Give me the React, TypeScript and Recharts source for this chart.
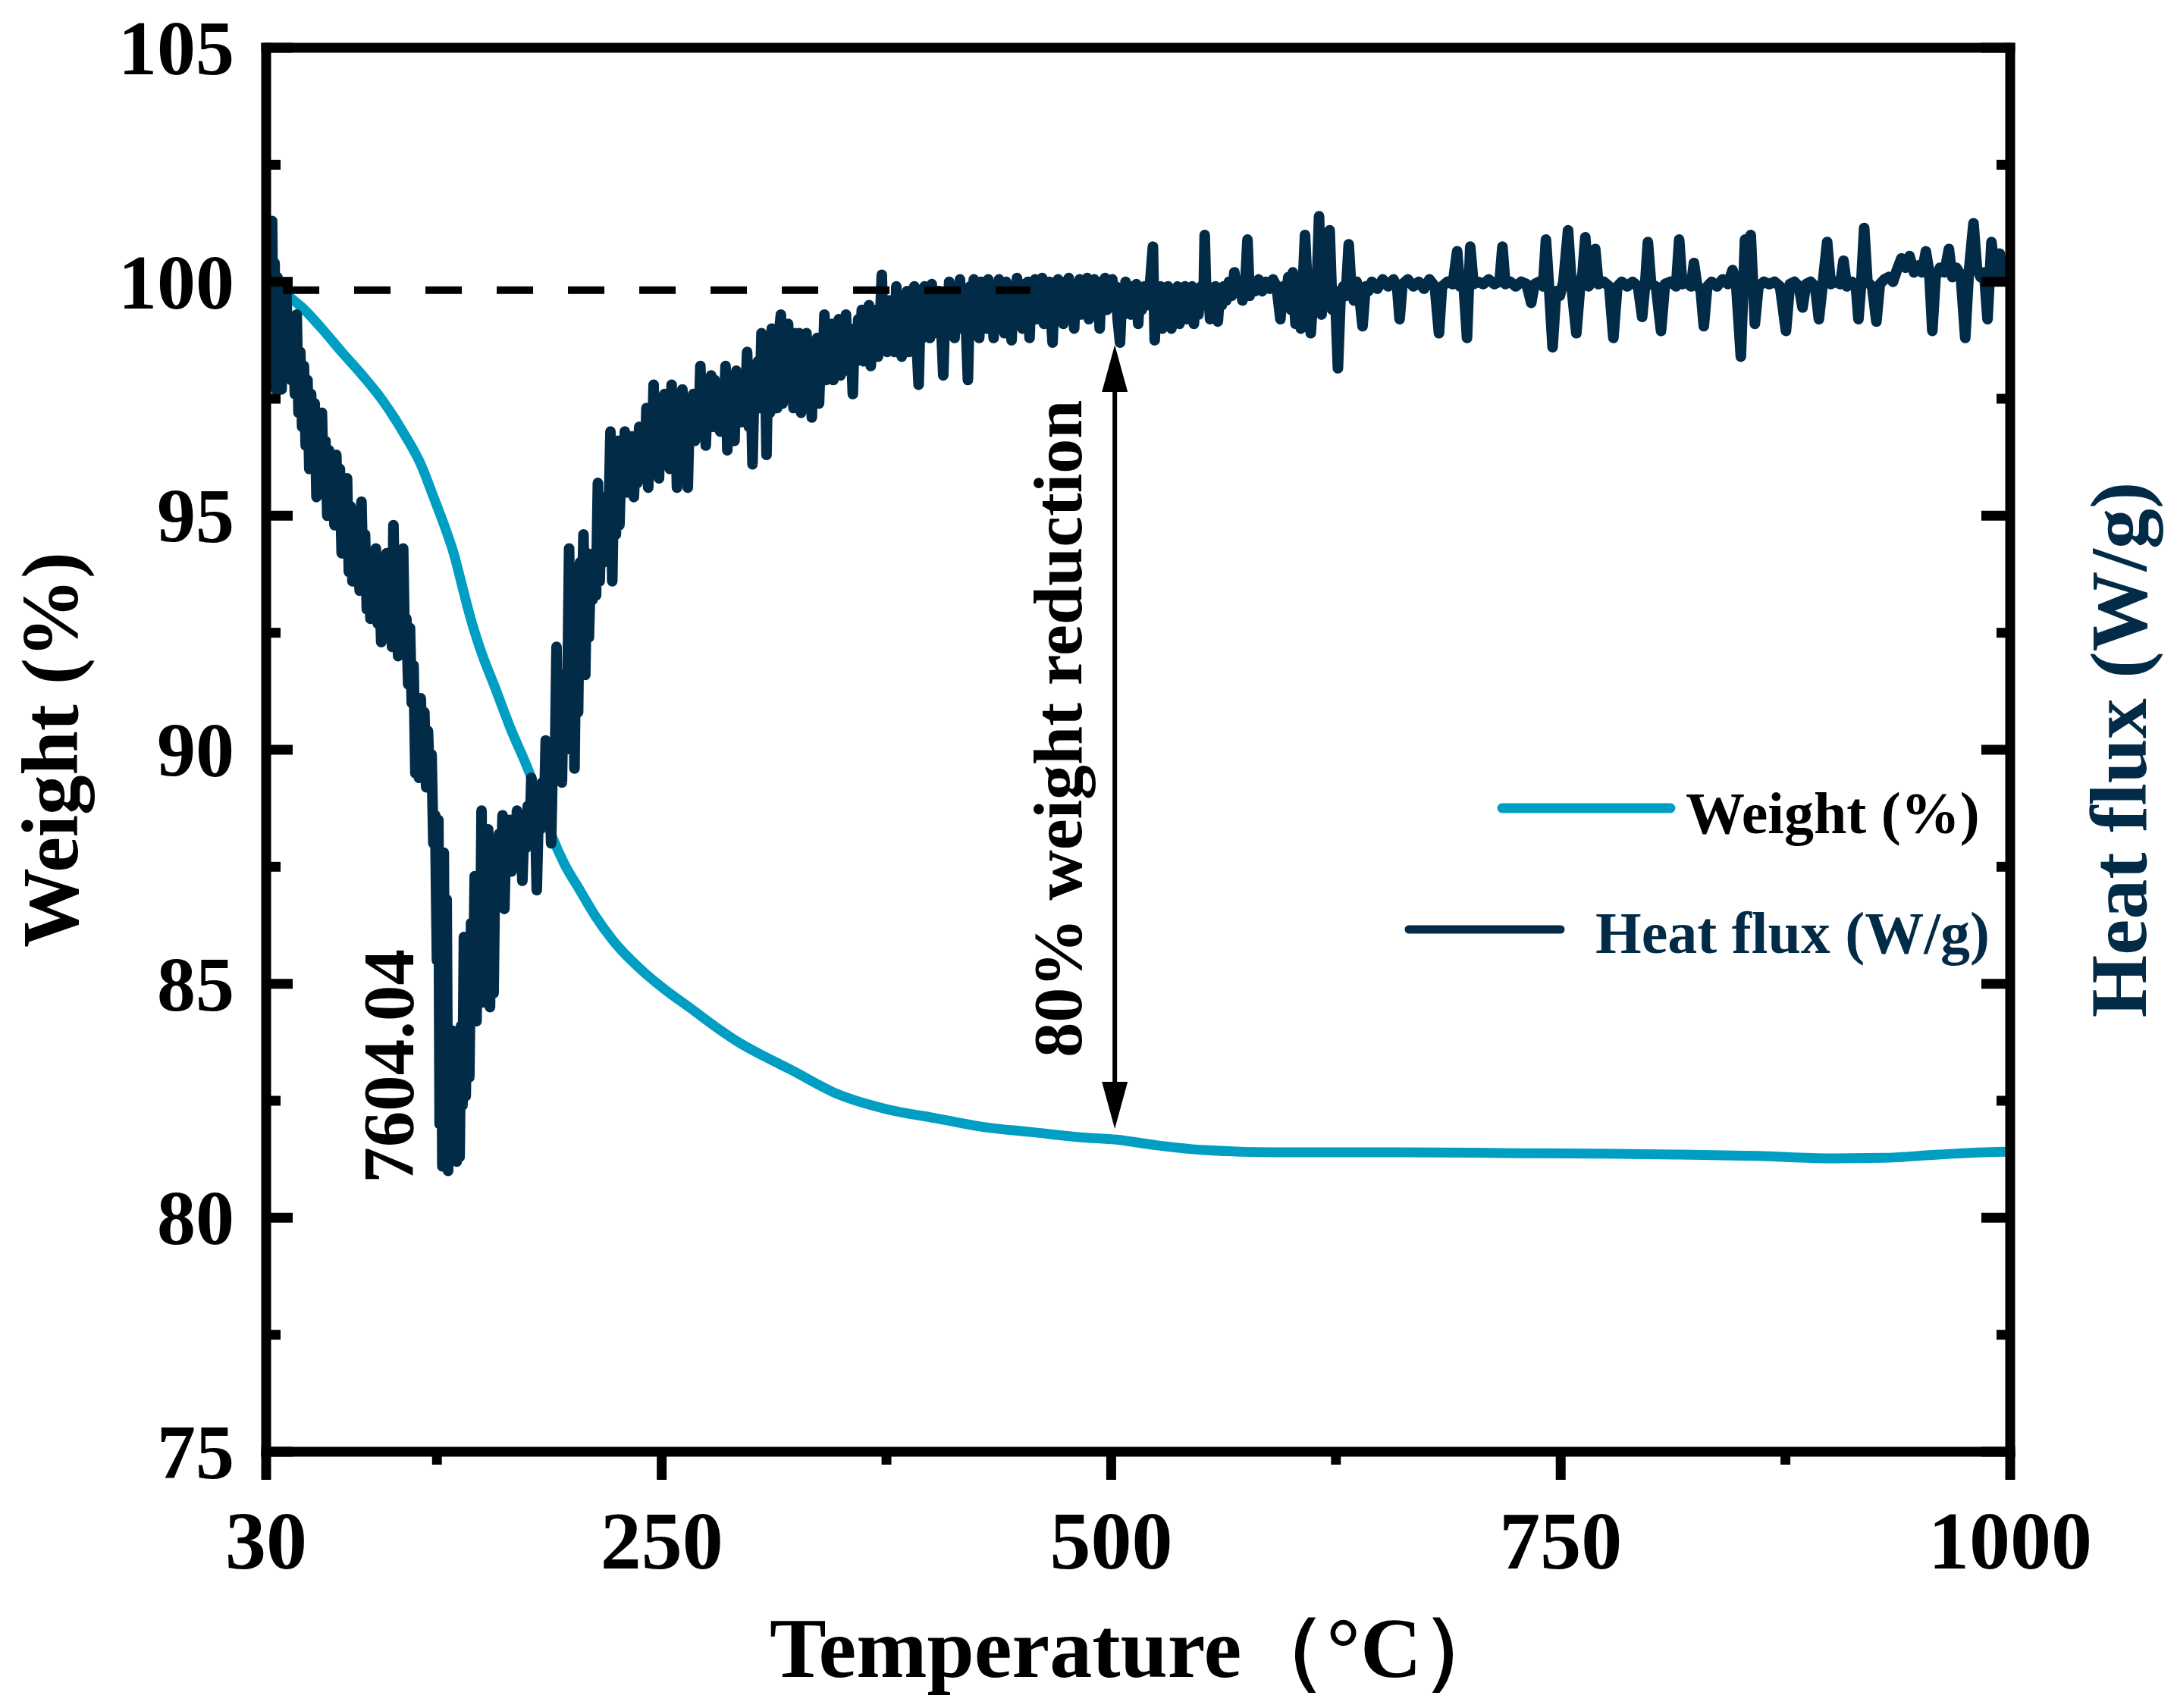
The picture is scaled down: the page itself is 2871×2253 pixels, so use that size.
import React from 'react';
import { LineChart, Line, XAxis, YAxis, ReferenceLine, ReferenceDot, Legend } from 'recharts';

const CHART_W = 2871;
const CHART_H = 2253;
const FONT = "'Liberation Serif', 'Times New Roman', Times, serif";
const WEIGHT_COLOR = '#009EC2';
const HEAT_COLOR = '#022B47';

// ---------- axes ----------
const xTicks = [30, 125, 250, 375, 500, 625, 750, 875, 1000];
const xTickLabels: Record<number, string> = { 30: '30', 250: '250', 500: '500', 750: '750', 1000: '1000' };
const yTicks = [75, 77.5, 80, 82.5, 85, 87.5, 90, 92.5, 95, 97.5, 100, 102.5, 105];
const yTickLabels: Record<number, string> = { 75: '75', 80: '80', 85: '85', 90: '90', 95: '95', 100: '100', 105: '105' };

// ---------- Weight (%) ----------
const weightT = [30, 40, 50, 63, 72, 82, 95, 108, 116, 123, 129, 134.6, 139, 144, 150, 157, 166, 176, 183, 189, 196, 204, 213, 223, 240, 251, 267, 280, 294, 308, 321, 348, 375, 402, 429, 456, 483, 503, 523, 550, 590, 662, 727, 770, 814, 860, 900, 929, 960, 998, 1000];
const weightV = [99.98, 99.76, 99.45, 98.91, 98.5, 98.07, 97.45, 96.67, 96.1, 95.41, 94.8, 94.16, 93.5, 92.77, 92.05, 91.36, 90.45, 89.55, 88.8, 88.15, 87.55, 87.03, 86.45, 85.92, 85.25, 84.9, 84.45, 84.08, 83.72, 83.43, 83.18, 82.64, 82.32, 82.13, 81.94, 81.83, 81.72, 81.67, 81.56, 81.45, 81.4, 81.4, 81.38, 81.37, 81.35, 81.32, 81.27, 81.28, 81.35, 81.41, 81.41];

// ---------- Heat flux (read in right-axis units, same span as left) ----------
const heatFluxPoints: [number, number][] = [
  [30, 98.2], [30.6, 101.3], [31.3, 97.8], [32.0, 100.5], [32.6, 99.0], [33.3, 101.3], [34.0, 98.6], [34.7, 100.4], [35.4, 97.7], [36.2, 100.1],
  [37.0, 98.3], [37.8, 99.7], [38.6, 97.7], [39.5, 99.5], [40.4, 98.4], [41.3, 99.8], [42.2, 98.0], [43.1, 99.0], [44.0, 97.9], [45.0, 98.8],
  [46.0, 97.6], [47.0, 99.3], [48.0, 97.2], [49.0, 98.5], [50.0, 96.9], [51.0, 98.2], [52.0, 96.5], [53.0, 97.9], [54.0, 96.0], [55.0, 97.6],
  [56.0, 96.4], [57.0, 97.4], [58.0, 95.4], [59.0, 96.9], [60.0, 95.9], [61.0, 97.2], [62.0, 95.6], [63.0, 96.6], [64.0, 95.0], [65.0, 96.4],
  [66.0, 95.3], [67.0, 96.2], [68.0, 94.8], [69.0, 96.3], [70.0, 95.0], [71.0, 96.0], [72.0, 94.2], [73.0, 95.6], [74.0, 94.5], [75.0, 95.8],
  [76.0, 93.8], [77.0, 95.2], [78.0, 93.6], [79.0, 94.8], [80.0, 93.9], [81.0, 94.6], [82.0, 93.4], [83.0, 95.3], [84.0, 93.6], [85.0, 94.6],
  [86.0, 93.0], [87.0, 94.2], [88.0, 92.8], [89.0, 94.0], [90.0, 93.1], [91.0, 94.3], [92.0, 92.7], [93.0, 93.6], [94.0, 92.3], [95.0, 93.8],
  [96.0, 93.0], [97.0, 94.2], [98.0, 92.5], [99.0, 93.4], [100.0, 92.2], [100.8, 94.8], [101.6, 93.0], [102.5, 94.0], [103.4, 92.0], [104.3, 93.2],
  [105.2, 92.1], [106.2, 94.3], [107.1, 92.2], [108.0, 92.8], [109.0, 91.4], [110.0, 92.6], [111.0, 91.0], [112.0, 91.8], [113.0, 89.5], [114.0, 90.6],
  [115.0, 89.4], [116.0, 91.1], [117.0, 89.8], [118.0, 90.8], [119.0, 89.2], [120.0, 90.4], [121.0, 89.3], [122.0, 89.9], [123.0, 88.0], [124.0, 88.6],
  [125.0, 85.5], [125.8, 88.5], [126.5, 82.0], [127.2, 87.6], [128.0, 81.1], [128.8, 87.8], [129.6, 81.2], [130.4, 86.8], [131.2, 81.0], [132.0, 83.8],
  [132.8, 81.3], [133.6, 84.0], [134.4, 81.5], [135.2, 83.2], [136.0, 81.2], [136.8, 82.4], [137.6, 81.3], [138.4, 84.1], [139.2, 82.4], [140.0, 86.0],
  [141.0, 82.6], [142.0, 85.4], [143.0, 83.0], [144.0, 86.3], [145.0, 84.3], [146.0, 87.3], [147.0, 84.2], [148.0, 87.0], [149.0, 85.0], [149.8, 88.7],
  [150.6, 84.6], [151.5, 87.6], [152.5, 85.8], [153.5, 88.3], [154.5, 84.5], [155.5, 87.9], [156.5, 84.8], [157.5, 88.0], [158.5, 86.8], [159.5, 88.2],
  [160.5, 87.0], [161.5, 88.6], [162.5, 86.6], [163.5, 88.3], [164.5, 87.4], [165.5, 88.5], [166.5, 87.4], [167.5, 88.4], [168.5, 87.6], [169.5, 88.7],
  [170.5, 87.5], [171.5, 88.5], [172.5, 87.2], [173.5, 88.3], [174.5, 87.9], [175.5, 88.8], [176.5, 88.0], [177.5, 89.4], [178.5, 88.2], [179.5, 88.9],
  [180.5, 87.0], [181.5, 88.6], [182.5, 88.3], [183.5, 89.3], [184.5, 88.5], [185.5, 90.2], [186.5, 88.4], [187.5, 89.8], [188.5, 88.0], [189.5, 90.0],
  [190.5, 89.4], [191.5, 92.2], [192.5, 89.5], [193.5, 91.4], [194.5, 89.3], [195.5, 91.6], [196.5, 90.5], [197.5, 91.0], [198.5, 94.3], [199.5, 90.0],
  [200.5, 93.6], [201.5, 89.6], [202.5, 93.0], [203.5, 90.8], [204.5, 94.0], [205.5, 92.6], [206.5, 94.6], [207.5, 91.6], [208.5, 94.2], [209.5, 92.4],
  [210.5, 93.8], [211.5, 93.2], [212.5, 94.2], [213.5, 93.3], [214.5, 95.7], [215.5, 93.6], [216.5, 95.2], [217.5, 94.0], [218.5, 95.4], [219.5, 94.2],
  [220.5, 95.0], [221.5, 96.8], [222.5, 93.6], [223.5, 96.0], [224.5, 94.6], [225.5, 96.6], [226.5, 94.8], [227.5, 96.2], [228.5, 95.6], [229.5, 96.8],
  [230.5, 95.5], [231.5, 96.4], [232.5, 95.8], [233.5, 96.7], [234.5, 95.4], [235.5, 96.3], [236.5, 95.7], [237.5, 96.9], [238.5, 96.0], [239.5, 96.6],
  [240.5, 95.8], [241.5, 97.3], [242.5, 95.6], [243.5, 97.0], [244.5, 96.2], [245.5, 97.8], [246.5, 96.3], [247.5, 97.4], [248.5, 95.8], [249.5, 97.2],
  [250.5, 96.5], [251.5, 97.6], [252.5, 96.2], [253.5, 97.1], [254.5, 96.0], [255.5, 97.8], [256.5, 96.4], [257.5, 97.3], [258.5, 95.6], [259.5, 97.0],
  [260.5, 96.5], [261.5, 97.7], [262.5, 96.3], [263.5, 97.4], [264.5, 95.6], [265.5, 97.2], [266.5, 96.7], [267.5, 97.6], [268.5, 96.6], [269.5, 97.5],
  [270.5, 96.8], [271.5, 98.2], [272.5, 96.7], [273.5, 97.8], [274.5, 96.5], [275.5, 97.6], [276.5, 97.0], [277.5, 98.0], [278.5, 96.9], [279.5, 97.9],
  [280.5, 97.2], [281.5, 97.8], [282.5, 96.8], [283.5, 97.6], [284.5, 97.0], [285.5, 98.2], [286.5, 96.4], [287.5, 97.9], [288.5, 97.1], [289.5, 97.7],
  [290.5, 96.6], [291.5, 98.1], [292.5, 97.3], [293.5, 97.9], [294.5, 97.0], [295.5, 97.7], [296.5, 97.4], [297.5, 98.5], [298.5, 96.9], [299.5, 98.0],
  [300.5, 96.1], [301.5, 97.8], [302.5, 97.4], [303.5, 98.3], [304.5, 97.3], [305.5, 98.9], [306.5, 97.6], [307.5, 98.4], [308.3, 96.3], [309.2, 98.6],
  [310.2, 97.2], [311.2, 99.0], [312.2, 97.6], [313.2, 98.7], [314.2, 97.3], [315.2, 98.9], [316.3, 99.3], [317.3, 97.4], [318.3, 98.8], [319.3, 97.6],
  [320.3, 99.1], [321.3, 97.9], [322.3, 98.6], [323.3, 97.3], [324.3, 98.9], [325.3, 98.0], [326.5, 98.9], [327.5, 97.2], [328.5, 98.5], [329.5, 97.6],
  [330.5, 98.9], [331.5, 97.8], [332.5, 98.4], [333.5, 97.1], [334.5, 98.7], [335.5, 97.9], [336.5, 98.8], [337.5, 97.4], [338.5, 98.5], [339.5, 97.9],
  [340.5, 99.3], [341.5, 97.9], [342.5, 98.8], [343.5, 98.1], [344.5, 99.1], [345.5, 97.9], [346.5, 98.9], [347.5, 98.3], [348.5, 99.2], [349.5, 98.0],
  [350.5, 98.7], [351.5, 98.2], [352.5, 99.3], [353.5, 98.1], [354.5, 98.9], [355.5, 98.4], [356.3, 97.6], [357.3, 99.0], [358.3, 98.3], [359.3, 99.2],
  [360.3, 98.6], [361.3, 99.4], [362.3, 98.3], [363.3, 99.1], [364.3, 98.5], [365.3, 99.5], [366.3, 98.2], [367.3, 99.2], [368.3, 98.7], [369.3, 99.4],
  [370.3, 98.4], [371.3, 99.0], [372.4, 100.15], [373.4, 98.6], [374.4, 99.3], [375.4, 98.5], [376.5, 99.6], [377.5, 98.8], [378.5, 99.4], [379.5, 98.5],
  [380.5, 99.9], [381.5, 98.7], [382.5, 99.5], [383.5, 98.4], [384.5, 99.7], [385.5, 98.9], [386.5, 99.8], [387.5, 98.5], [388.5, 99.4], [389.5, 98.7],
  [390.5, 99.9], [391.5, 98.9], [392.9, 97.8], [394.0, 99.5], [395.2, 98.8], [396.2, 99.9], [397.2, 99.0], [398.2, 99.7], [399.2, 98.8], [400.2, 99.95],
  [401.2, 99.1], [402.2, 99.7], [403.2, 98.9], [404.2, 99.8], [405.3, 99.2], [406.6, 98.0], [407.8, 99.6], [408.9, 99.0], [409.9, 100.0], [410.9, 99.1],
  [411.9, 99.8], [412.9, 98.8], [413.9, 99.9], [414.9, 99.2], [415.9, 100.05], [416.9, 99.0], [417.9, 99.7], [419.0, 99.3], [420.3, 97.9], [421.5, 99.9],
  [422.6, 99.2], [423.6, 100.05], [424.6, 99.0], [425.6, 99.8], [426.6, 98.8], [427.6, 100.0], [428.6, 99.3], [429.6, 99.9], [430.6, 99.0], [431.6, 100.05],
  [432.6, 99.2], [433.6, 99.7], [434.6, 98.8], [435.6, 99.9], [436.6, 99.3], [437.6, 100.05], [438.6, 99.1], [439.6, 99.8], [440.6, 98.9], [441.6, 100.0],
  [442.6, 99.4], [443.6, 99.9], [444.6, 98.75], [445.6, 99.8], [446.6, 99.3], [447.6, 100.08], [448.6, 99.2], [449.6, 99.9], [450.6, 99.0], [451.6, 99.95],
  [452.6, 99.4], [453.6, 100.0], [454.6, 98.8], [455.6, 99.9], [456.6, 99.3], [457.6, 100.05], [458.6, 99.2], [459.6, 99.8], [460.6, 99.4], [461.6, 100.08],
  [462.6, 99.1], [463.6, 99.9], [464.6, 99.3], [465.6, 100.0], [466.6, 99.2], [467.4, 98.7], [468.4, 99.8], [469.4, 99.3], [470.4, 100.05], [471.4, 99.4],
  [472.4, 99.9], [473.4, 99.1], [474.4, 100.0], [475.4, 99.5], [476.4, 100.08], [477.4, 99.3], [478.4, 99.9], [479.4, 99.0], [480.4, 99.95], [481.4, 99.5],
  [482.4, 100.05], [483.4, 99.3], [484.4, 99.9], [485.4, 99.4], [486.6, 100.08], [487.6, 99.2], [488.6, 99.9], [489.6, 99.5], [490.6, 100.05], [491.6, 99.3],
  [492.6, 99.8], [493.6, 99.0], [494.6, 100.0], [495.6, 99.5], [496.6, 100.08], [497.6, 99.4], [498.6, 99.9], [499.6, 99.5], [500.6, 100.05], [501.6, 99.6],
  [502.6, 99.9], [503.6, 99.2], [504.9, 98.7], [506.0, 99.7], [507.0, 99.3], [508.0, 100.0], [509.0, 99.5], [510.0, 99.85], [511.0, 99.3], [512.0, 99.9],
  [513.0, 99.5], [514.0, 99.95], [515.0, 99.1], [516.0, 99.8], [517.0, 99.4], [518.6, 99.9], [520.0, 99.5], [521.5, 99.9], [523.2, 100.75], [524.2, 98.75],
  [525.3, 99.9], [526.3, 99.4], [527.5, 99.9], [528.5, 99.0], [529.5, 99.8], [530.5, 99.3], [531.5, 99.9], [532.5, 99.6], [533.5, 99.0], [534.5, 99.8],
  [535.5, 99.4], [536.9, 99.9], [538.0, 99.1], [539.0, 99.7], [540.0, 99.4], [541.0, 99.9], [542.0, 99.2], [543.0, 99.8], [544.0, 99.5], [545.0, 99.9],
  [546.0, 99.1], [547.0, 99.8], [548.5, 99.3], [550.0, 99.9], [551.3, 99.5], [552.0, 101.0], [553.0, 99.5], [554.0, 99.9], [555.0, 99.2], [556.0, 99.8],
  [557.0, 99.4], [558.0, 99.9], [559.3, 99.15], [560.5, 99.8], [561.5, 99.5], [562.5, 99.9], [564.0, 99.6], [565.5, 100.0], [567.0, 99.7], [568.5, 100.2],
  [570.0, 99.8], [571.5, 99.95], [573.0, 99.6], [574.5, 99.9], [575.8, 100.9], [577.0, 99.7], [578.5, 100.0], [580.0, 99.8], [582.0, 100.05], [584.0, 99.8],
  [586.0, 100.0], [588.0, 99.85], [590.0, 100.05], [592.0, 99.9], [594.1, 99.2], [595.5, 99.9], [597.0, 99.6], [598.5, 100.1], [600.0, 99.4], [601.0, 100.2],
  [602.5, 99.1], [604.0, 99.7], [605.5, 99.0], [607.8, 101.0], [609.5, 99.6], [611.0, 98.9], [612.5, 99.8], [614.0, 99.5], [615.6, 101.4], [617.0, 99.3],
  [618.5, 99.9], [620.0, 99.5], [621.5, 101.1], [623.0, 99.4], [624.5, 99.8], [626.1, 98.15], [627.5, 99.6], [629.0, 99.9], [630.5, 99.7], [632.1, 100.8],
  [633.5, 99.9], [635.0, 99.6], [636.5, 100.0], [638.0, 99.7], [639.8, 99.05], [641.5, 99.9], [643.0, 99.8], [645.0, 100.0], [648.0, 99.85], [651.0, 100.05],
  [654.0, 99.9], [657.0, 100.05], [659.0, 99.9], [660.4, 99.2], [662.0, 99.95], [665.0, 100.05], [668.0, 99.9], [671.0, 100.0], [674.0, 99.85], [677.0, 100.05],
  [680.0, 99.9], [682.3, 98.9], [684.0, 99.9], [687.0, 100.0], [690.0, 99.95], [692.4, 100.65], [694.0, 99.9], [696.0, 99.95], [697.9, 98.8], [699.7, 100.75],
  [701.5, 99.95], [704.0, 100.0], [707.0, 99.95], [710.0, 100.05], [713.0, 99.95], [716.0, 100.0], [717.6, 100.75], [719.2, 99.95], [722.0, 100.0], [725.0, 99.9],
  [728.0, 100.0], [731.0, 99.95], [733.6, 99.55], [735.5, 99.95], [738.0, 100.0], [740.2, 99.9], [741.8, 100.9], [743.5, 99.9], [745.5, 98.6], [747.5, 99.8],
  [749.5, 99.7], [751.5, 100.0], [754.1, 101.1], [756.3, 99.8], [758.7, 98.9], [760.8, 99.9], [762.2, 100.2], [763.7, 100.95], [765.5, 99.9], [767.5, 100.0],
  [769.2, 100.7], [771.0, 99.95], [774.0, 100.0], [777.0, 99.9], [779.3, 98.8], [781.5, 99.9], [784.0, 100.0], [787.0, 99.9], [790.0, 100.0], [793.0, 99.9],
  [795.3, 99.25], [796.9, 99.9], [798.5, 100.85], [800.3, 99.95], [803.0, 99.9], [805.8, 98.95], [808.0, 99.95], [811.0, 100.0], [814.2, 99.9], [815.9, 100.9],
  [817.6, 99.95], [820.0, 100.0], [822.5, 99.9], [824.1, 100.4], [826.0, 99.9], [827.8, 99.85], [829.6, 99.05], [831.5, 99.9], [834.0, 100.0], [837.0, 99.9],
  [840.0, 100.05], [843.0, 99.95], [845.6, 100.25], [847.5, 100.0], [850.2, 98.4], [852.5, 100.9], [854.0, 100.4], [855.7, 101.0], [858.0, 99.1], [860.0, 99.9],
  [863.0, 100.0], [866.0, 99.95], [869.0, 100.0], [872.0, 99.9], [875.3, 98.95], [877.5, 99.95], [880.0, 100.0], [882.5, 99.9], [884.5, 99.45], [886.5, 99.95],
  [889.0, 100.0], [891.5, 99.9], [893.6, 99.2], [895.6, 99.9], [898.2, 100.85], [900.2, 99.95], [903.0, 100.0], [905.5, 99.95], [907.3, 100.45], [909.2, 99.9],
  [912.0, 100.0], [914.2, 99.9], [915.6, 99.2], [917.2, 100.0], [918.8, 101.15], [920.6, 100.0], [923.2, 99.9], [925.6, 99.15], [927.5, 99.95], [930.0, 100.05],
  [932.5, 100.1], [934.8, 100.0], [937.0, 100.25], [939.5, 100.5], [941.8, 100.3], [944.0, 100.55], [946.5, 100.2], [949.0, 100.35], [951.0, 100.2], [953.1, 100.65],
  [955.0, 100.2], [956.7, 98.95], [958.5, 100.1], [961.0, 100.3], [963.5, 100.2], [965.9, 100.7], [967.8, 100.1], [970.0, 100.3], [972.5, 100.15], [975.0, 98.8],
  [977.0, 100.2], [979.6, 101.25], [981.5, 100.3], [983.5, 100.1], [985.5, 100.2], [987.4, 99.2], [989.6, 100.85], [991.5, 100.1], [993.0, 100.3], [994.2, 100.6],
  [996.0, 100.2], [998.0, 100.1], [1000.0, 100.15],
];

// ---------- annotations ----------
const dashedLevel = 99.82;
const dashedFrom = 39.3;
const dashedTo = 455;
const arrowT = 502;
const arrowTop = 98.65;
const arrowBottom = 81.9;
const peakLabel = { t: 111.8, v: 83.24, text: '7604.04', size: 95 };
const reductionLabel = { t: 483.5, v: 90.45, text: '80% weight reduction', size: 92 };

const weightData = weightT.map((t, i) => ({ t, w: weightV[i] }));
const heatData = heatFluxPoints.map(([t, h]) => ({ t, h }));

const BottomTick = (props: any) => {
  const { x, y, payload } = props;
  const label = xTickLabels[payload.value];
  const major = label !== undefined;
  return (
    <g>
      <line x1={x} x2={x} y1={y} y2={y + (major ? 37 : 17)} stroke="#000" strokeWidth={13} />
      {major && (
        <text x={x} y={y + 154} textAnchor="middle" fontFamily={FONT} fontWeight="bold" fontSize={108} fill="#000">
          {label}
        </text>
      )}
    </g>
  );
};

const LeftTick = (props: any) => {
  const { x, y, payload } = props;
  const label = yTickLabels[payload.value];
  const major = label !== undefined;
  return (
    <g>
      <line x1={x} x2={x + (major ? 35 : 19)} y1={y} y2={y} stroke="#000" strokeWidth={13} />
      {major && (
        <text x={x - 42} y={y + 35} textAnchor="end" fontFamily={FONT} fontWeight="bold" fontSize={102} fill="#000">
          {label}
        </text>
      )}
    </g>
  );
};

const RightTick = (props: any) => {
  const { x, y, payload } = props;
  const major = yTickLabels[payload.value] !== undefined;
  return <line x1={x} x2={x - (major ? 38 : 18)} y1={y} y2={y} stroke="#000" strokeWidth={13} />;
};

const legendRows: Record<string, any> = {
  w: { lineX1: 141, lineX2: 363, lineY: 66, textX: 383, textY: 99, textColor: '#000', strokeWidth: 13 },
  h: { lineX1: 18, lineX2: 218, lineY: 226, textX: 264, textY: 257, textColor: HEAT_COLOR, strokeWidth: 11 },
};

const LegendContent = (props: any) => {
  const payload = props.payload || [];
  return (
    <svg width={800} height={300} style={{ overflow: 'visible' }}>
      {payload.map((entry: any, i: number) => {
        const r = legendRows[entry.dataKey as string];
        if (!r) return null;
        return (
          <g key={i}>
            <line x1={r.lineX1} x2={r.lineX2} y1={r.lineY} y2={r.lineY} stroke={entry.color} strokeWidth={r.strokeWidth} strokeLinecap="round" />
            <text x={r.textX} y={r.textY} fontFamily={FONT} fontWeight="bold" fontSize={78} fill={r.textColor}>
              {entry.value}
            </text>
          </g>
        );
      })}
    </svg>
  );
};

const ArrowShape = (props: any) => {
  const { x1, y1, x2, y2 } = props;
  const x = x1;
  const top = Math.min(y1, y2);
  const bottom = Math.max(y1, y2);
  const headLen = 62;
  const headHalf = 17;
  return (
    <g>
      <line x1={x} x2={x2} y1={top + headLen - 4} y2={bottom - headLen + 4} stroke="#000" strokeWidth={6} />
      <polygon points={`${x},${top} ${x - headHalf},${top + headLen} ${x + headHalf},${top + headLen}`} fill="#000" />
      <polygon points={`${x},${bottom} ${x - headHalf},${bottom - headLen} ${x + headHalf},${bottom - headLen}`} fill="#000" />
    </g>
  );
};

const RotatedText = (text: string, size: number) => (props: any) => {
  const { cx, cy } = props;
  return (
    <text x={cx} y={cy} transform={`rotate(-90 ${cx} ${cy})`} textAnchor="middle" fontFamily={FONT} fontWeight="bold" fontSize={size} fill="#000">
      {text}
    </text>
  );
};

const LeftTitle = (props: any) => {
  const vb = props.viewBox || { x: 0, y: 63, width: 351, height: 1852 };
  const x = vb.x + 102;
  const y = vb.y + vb.height / 2;
  return (
    <text x={x} y={y} transform={`rotate(-90 ${x} ${y})`} textAnchor="middle" fontFamily={FONT} fontWeight="bold" fontSize={105} fill="#000">
      Weight (%)
    </text>
  );
};

const RightTitle = (props: any) => {
  const vb = props.viewBox || { x: 2651, y: 63, width: 220, height: 1852 };
  const x = vb.x + 179;
  const y = vb.y + vb.height / 2;
  return (
    <text x={x} y={y} transform={`rotate(-90 ${x} ${y})`} textAnchor="middle" fontFamily={FONT} fontWeight="bold" fontSize={106} fill={HEAT_COLOR}>
      Heat flux (W/g)
    </text>
  );
};

const BottomTitle = (props: any) => {
  const vb = props.viewBox || { x: 351, y: 1915, width: 2300, height: 338 };
  return (
    <text x={vb.x + vb.width / 2} y={vb.y + 297} textAnchor="middle" fontFamily={FONT} fontWeight="bold" fontSize={112} fill="#000">
      Temperature（°C）
    </text>
  );
};

export default function App() {
  return (
    <div style={{ position: 'absolute', left: 0, top: 0, width: CHART_W, height: CHART_H, background: '#fff' }}>
      <LineChart width={CHART_W} height={CHART_H} margin={{ top: 63, right: 0, bottom: 0, left: 0 }}>
        <XAxis
          dataKey="t"
          type="number"
          domain={[30, 1000]}
          ticks={xTicks}
          interval={0}
          height={338}
          tickSize={0}
          tickMargin={0}
          tickLine={false}
          tick={<BottomTick />}
          axisLine={{ stroke: '#000', strokeWidth: 13, strokeLinecap: 'square' }}
          allowDataOverflow
          label={{ content: <BottomTitle /> } as any}
        />
        <YAxis
          yAxisId="left"
          orientation="left"
          type="number"
          domain={[75, 105]}
          ticks={yTicks}
          interval={0}
          width={351}
          tickSize={0}
          tickMargin={0}
          tickLine={false}
          tick={<LeftTick />}
          axisLine={{ stroke: '#000', strokeWidth: 13, strokeLinecap: 'square' }}
          allowDataOverflow
          label={{ content: <LeftTitle /> } as any}
        />
        <YAxis
          yAxisId="right"
          orientation="right"
          type="number"
          domain={[75, 105]}
          ticks={yTicks}
          interval={0}
          width={220}
          tickSize={0}
          tickMargin={0}
          tickLine={false}
          tick={<RightTick />}
          axisLine={{ stroke: '#000', strokeWidth: 13, strokeLinecap: 'square' }}
          allowDataOverflow
          label={{ content: <RightTitle /> } as any}
        />
        <ReferenceLine yAxisId="left" y={105} stroke="#000" strokeWidth={13} strokeLinecap="square" />
        <Line
          yAxisId="left"
          data={weightData}
          dataKey="w"
          name="Weight (%)"
          type="monotone"
          stroke={WEIGHT_COLOR}
          strokeWidth={13}
          dot={false}
          activeDot={false}
          isAnimationActive={false}
        />
        <Line
          yAxisId="right"
          data={heatData}
          dataKey="h"
          name="Heat flux (W/g)"
          type="linear"
          stroke={HEAT_COLOR}
          strokeWidth={14}
          strokeLinejoin="round"
          strokeLinecap="round"
          dot={false}
          activeDot={false}
          isAnimationActive={false}
        />
        <ReferenceLine
          yAxisId="left"
          segment={[{ x: dashedFrom, y: dashedLevel }, { x: dashedTo, y: dashedLevel }]}
          stroke="#000"
          strokeWidth={10}
          strokeDasharray="48 46"
        />
        <ReferenceLine
          yAxisId="left"
          segment={[{ x: arrowT, y: arrowTop }, { x: arrowT, y: arrowBottom }]}
          shape={<ArrowShape />}
        />
        <ReferenceDot yAxisId="left" x={peakLabel.t} y={peakLabel.v} r={1} shape={RotatedText(peakLabel.text, peakLabel.size)} />
        <ReferenceDot yAxisId="left" x={reductionLabel.t} y={reductionLabel.v} r={1} shape={RotatedText(reductionLabel.text, reductionLabel.size)} />
        <Legend
          layout="vertical"
          align="center"
          verticalAlign="middle"
          content={<LegendContent />}
          wrapperStyle={{ position: 'absolute', left: 1840, top: 1000, width: 800, height: 300 }}
        />
      </LineChart>
    </div>
  );
}
